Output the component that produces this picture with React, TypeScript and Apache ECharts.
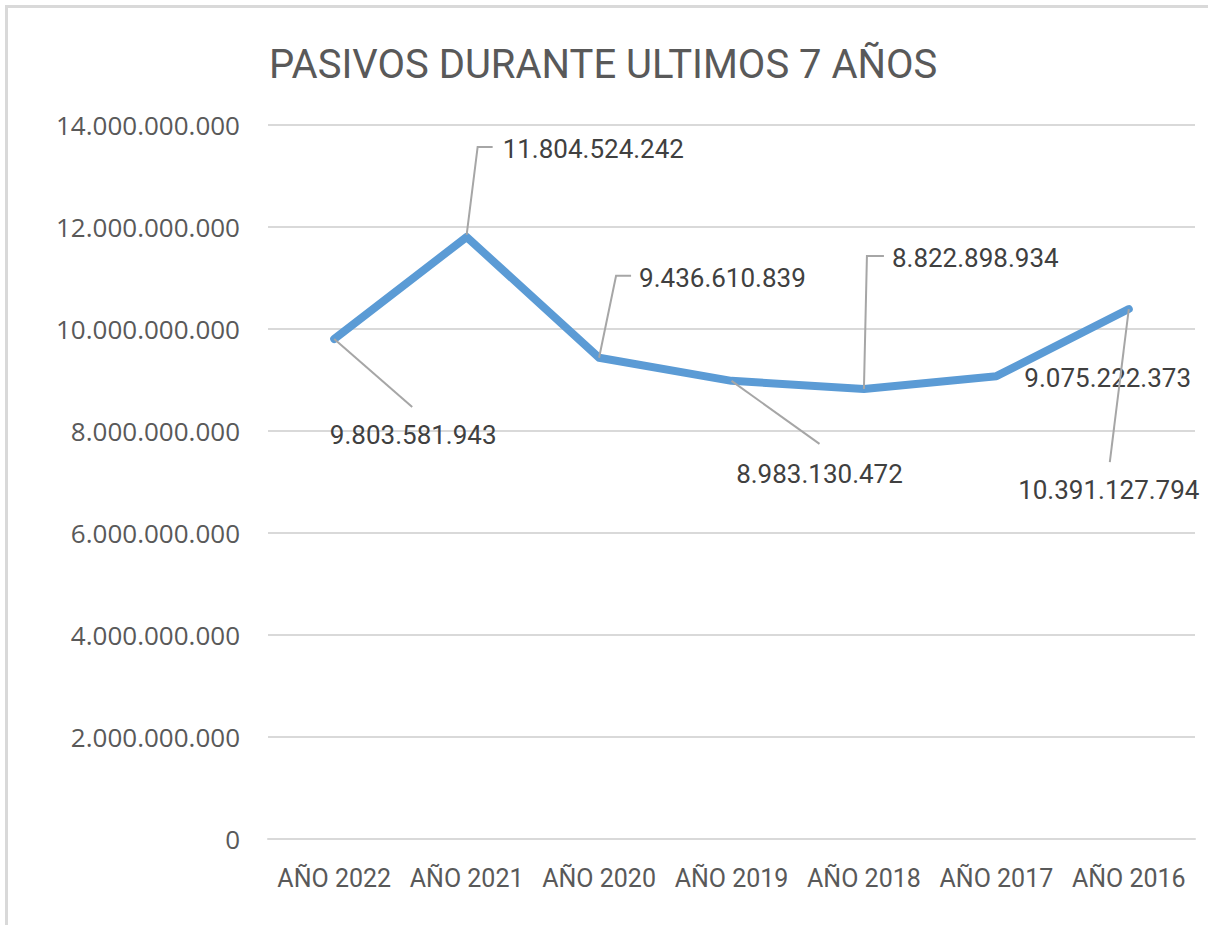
import React, { useEffect, useRef } from "react";
import * as echarts from "echarts";

const TITLE = "PASIVOS DURANTE ULTIMOS 7 AÑOS";
const CATEGORIES = ["AÑO 2022", "AÑO 2021", "AÑO 2020", "AÑO 2019", "AÑO 2018", "AÑO 2017", "AÑO 2016"];
const VALUES = [9803581943, 11804524242, 9436610839, 8983130472, 8822898934, 9075222373, 10391127794];
const Y_MIN = 0;
const Y_MAX = 14000000000;
const Y_STEP = 2000000000;

// label placement (pixel offsets from each point) – styling only
const LABEL_LAYOUT = [
  { line: [[0, 0], [78, 68]], lx: 79, ly: 96, align: "center" },
  { line: [[0, -2], [11, -90], [26, -90]], lx: 36, ly: -88, align: "left" },
  { line: [[0, 0], [17, -82], [32, -82]], lx: 40, ly: -80, align: "left" },
  { line: [[0, 0], [88, 63]], lx: 88, ly: 93, align: "center" },
  { line: [[0, 0], [3, -133], [20, -133]], lx: 28, ly: -131, align: "left" },
  { line: [], lx: 28, ly: 2, align: "left" },
  { line: [[0, 0], [-19, 153]], lx: -20, ly: 181, align: "center" },
];

const fmt = (v: number) => Math.round(v).toString().replace(/\B(?=(\d{3})+(?!\d))/g, ".");

export default function App() {
  const ref = useRef<HTMLDivElement>(null);
  useEffect(() => {
    if (!ref.current) return;
    const chart = echarts.init(ref.current, undefined, { renderer: "svg" });
    chart.setOption({
      animation: false,
      backgroundColor: "#ffffff",
      title: {
        text: TITLE,
        left: 269,
        top: 44,
        padding: 0,
        textStyle: { fontFamily: "Roboto", fontSize: 40, fontWeight: "normal", color: "#595959" },
      },
      graphic: [
        {
          type: "rect",
          shape: { x: 6.5, y: 6.5, width: 1300, height: 1000 },
          style: { fill: "none", stroke: "#d9d9d9", lineWidth: 3 },
          silent: true,
        },
      ],
      grid: { left: 268, right: 13, top: 125, bottom: 86, containLabel: false },
      xAxis: {
        type: "category",
        data: CATEGORIES,
        boundaryGap: true,
        axisLine: { show: true, lineStyle: { color: "#d9d9d9", width: 2 } },
        axisTick: { show: false },
        axisLabel: {
          color: "#595959",
          fontFamily: "Roboto",
          fontSize: 25,
          margin: 27,
          interval: 0,
          hideOverlap: false,
        },
      },
      yAxis: {
        type: "value",
        min: Y_MIN,
        max: Y_MAX,
        interval: Y_STEP,
        axisLine: { show: false },
        axisTick: { show: false },
        splitLine: { lineStyle: { color: "#d9d9d9", width: 2 } },
        axisLabel: {
          color: "#595959",
          fontFamily: "Open Sans",
          fontSize: 26,
          margin: 28,
          formatter: (v: number) => fmt(v),
        },
      },
      series: [
        {
          type: "line",
          data: VALUES,
          symbol: "none",
          lineStyle: { color: "#5b9bd5", width: 8, cap: "round", join: "round" },
          z: 2,
        },
        {
          type: "custom",
          z: 3,
          data: VALUES.map((v, i) => [i, v]),
          renderItem: (params: any, api: any) => {
            const i = params.dataIndex;
            const p = api.coord([api.value(0), api.value(1)]);
            const L = LABEL_LAYOUT[i];
            const children: any[] = [];
            if (L.line.length) {
              children.push({
                type: "polyline",
                shape: { points: L.line.map(([dx, dy]) => [p[0] + dx, p[1] + dy]) },
                style: { stroke: "#a6a6a6", lineWidth: 2, fill: "none" },
              });
            }
            children.push({
              type: "text",
              x: p[0] + L.lx,
              y: p[1] + L.ly,
              style: {
                text: fmt(VALUES[i]),
                fill: "#404040",
                fontFamily: "Roboto",
                fontSize: 26,
                align: L.align,
                verticalAlign: "middle",
              },
            });
            return { type: "group", children };
          },
        },
      ],
    });
    return () => chart.dispose();
  }, []);
  return (
    <div
      ref={ref}
      style={{ position: "absolute", left: 0, top: 0, width: 1208, height: 925 }}
    />
  );
}
